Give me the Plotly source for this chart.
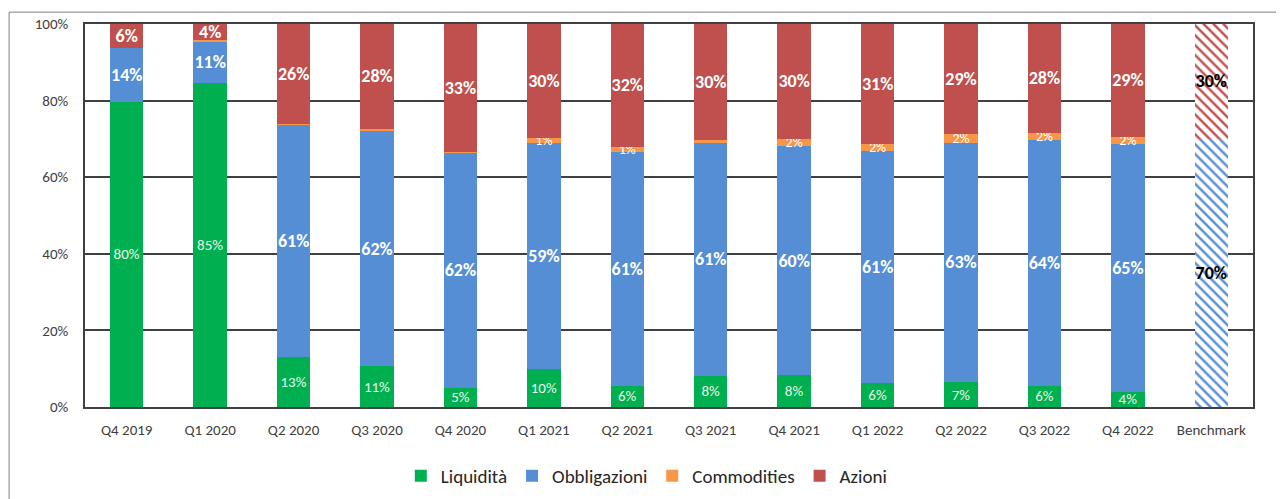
import plotly.graph_objects as go

categories = ["Q4 2019", "Q1 2020", "Q2 2020", "Q3 2020", "Q4 2020", "Q1 2021", "Q2 2021",
              "Q3 2021", "Q4 2021", "Q1 2022", "Q2 2022", "Q3 2022", "Q4 2022", "Benchmark"]

liquidita    = [79.7, 84.6, 13.1, 10.6, 5.0, 9.9, 5.6, 8.1, 8.3, 6.2, 6.5, 5.6, 4.0, 0]
obbligazioni = [14.0, 10.9, 60.6, 61.5, 61.5, 59.1, 60.9, 61.0, 59.9, 60.7, 62.5, 64.0, 64.8, 70]
commodities  = [0.0, 0.4, 0.2, 0.5, 0.1, 1.2, 1.4, 0.5, 1.8, 1.9, 2.2, 2.0, 1.8, 0]
azioni       = [6.3, 4.1, 26.1, 27.4, 33.4, 29.8, 32.1, 30.4, 30.0, 31.2, 28.8, 28.4, 29.4, 30]

liq_labels  = ["80%", "85%", "13%", "11%", "5%", "10%", "6%", "8%", "8%", "6%", "7%", "6%", "4%", ""]
obb_labels  = ["14%", "11%", "61%", "62%", "62%", "59%", "61%", "61%", "60%", "61%", "63%", "64%", "65%", "70%"]
com_labels  = ["", "", "", "", "", "1%", "1%", "", "2%", "2%", "2%", "2%", "2%", ""]
azi_labels  = ["6%", "4%", "26%", "28%", "33%", "30%", "32%", "30%", "30%", "31%", "29%", "28%", "29%", "30%"]

GREEN, BLUE, ORANGE, RED = "#00B050", "#558ED5", "#F79646", "#C0504D"
FONT = "Calibri, Carlito, Lato, sans-serif"
is_bench = [c == "Benchmark" for c in categories]

def bar(name, values, labels, color, tsize, tbold, tcolor, hatch=False):
    shapes = ["\\" if (hatch and b) else "" for b in is_bench]
    tcolors = ["black" if b else tcolor for b in is_bench]
    pattern = dict(shape=shapes, fillmode="replace", bgcolor="white", size=7, solidity=0.35)
    return go.Bar(
        name=name, x=categories, y=values,
        text=[("<b>%s</b>" % t if (tbold or b) and t else t) for t, b in zip(labels, is_bench)],
        textposition="inside", insidetextanchor="middle", constraintext="none", textangle=0,
        textfont=dict(family=FONT, size=tsize, color=tcolors),
        marker=dict(color=color, line=dict(width=0), pattern=pattern),
        hoverinfo="skip",
    )

fig = go.Figure()
fig.add_trace(bar("Liquidità", liquidita, liq_labels, GREEN, 15, False, "#E8F6EA"))
fig.add_trace(bar("Obbligazioni", obbligazioni, obb_labels, BLUE, 18, True, "white", hatch=True))
fig.add_trace(bar("Commodities", commodities, com_labels, ORANGE, 14, False, "white"))
fig.add_trace(bar("Azioni", azioni, azi_labels, RED, 18, True, "white", hatch=True))

# page body has an 8px margin: figure is sized/offset to compensate
fig.update_layout(
    width=1276, height=491,
    barmode="stack", bargap=0.6,
    plot_bgcolor="white", paper_bgcolor="white",
    margin=dict(l=77, r=31, t=16, b=92, autoexpand=False),
    font=dict(family=FONT, size=14, color="#404040"),
    showlegend=True,
    legend=dict(orientation="h", x=0.481, xanchor="center", y=-0.18, yanchor="middle",
                font=dict(family=FONT, size=19, color="#262626"), traceorder="normal",
                itemwidth=30),
)
fig.update_xaxes(showline=True, linecolor="#404040", linewidth=1.5, mirror=True, automargin=False,
                 ticks="", tickfont=dict(family=FONT, size=15, color="#404040"),
                 ticklabelstandoff=8)
fig.update_yaxes(range=[0, 100], dtick=20, ticksuffix="%", automargin=False,
                 showline=True, linecolor="#404040", linewidth=1.5, mirror=True,
                 showgrid=True, gridcolor="#404040", gridwidth=1.5, zeroline=False,
                 tickfont=dict(family=FONT, size=15, color="#404040"), ticklabelstandoff=12)

fig.add_shape(type="rect", xref="paper", yref="paper", x0=-0.065, x1=1.2, y0=-0.4, y1=1.031,
              line=dict(color="#808080", width=1), fillcolor="rgba(0,0,0,0)", layer="below")

fig.write_html("out.html")
